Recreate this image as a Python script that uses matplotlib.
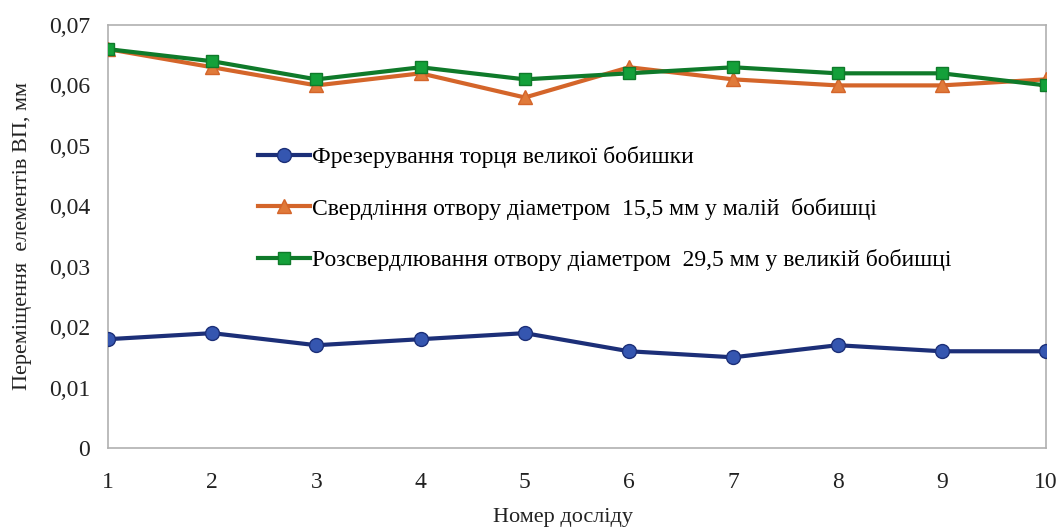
import matplotlib
matplotlib.use("Agg")
import matplotlib.pyplot as plt
from matplotlib.ticker import FuncFormatter

plt.rcParams['font.family'] = ['Liberation Serif', 'DejaVu Serif']

experiments = [1, 2, 3, 4, 5, 6, 7, 8, 9, 10]
milling = [0.018, 0.019, 0.017, 0.018, 0.019, 0.016, 0.015, 0.017, 0.016, 0.016]
drilling = [0.066, 0.063, 0.060, 0.062, 0.058, 0.063, 0.061, 0.060, 0.060, 0.061]
reaming = [0.066, 0.064, 0.061, 0.063, 0.061, 0.062, 0.063, 0.062, 0.062, 0.060]

labels = [
    "Фрезерування торця великої бобишки",
    "Свердління отвору діаметром  15,5 мм у малій  бобишці",
    "Розсвердлювання отвору діаметром  29,5 мм у великій бобишці",
]
y_ticks = [0, 0.01, 0.02, 0.03, 0.04, 0.05, 0.06, 0.07]

fig = plt.figure(figsize=(10.61, 5.27), dpi=100)
ax = fig.add_axes([0.1018, 0.150, 0.884, 0.8026])

ax.plot(experiments, milling, color='#1c2f78', lw=3, marker='o', ms=10,
        mfc='#3556b0', mec='#1c2f78', label=labels[0], zorder=3)
ax.plot(experiments, drilling, color='#d4652a', lw=3, marker='^', ms=10,
        mfc='#e07a3a', mec='#d4652a', label=labels[1], zorder=3)
ax.plot(experiments, reaming, color='#0f7a2a', lw=3, marker='s', ms=9,
        mfc='#14a03a', mec='#0f7a2a', label=labels[2], zorder=4)

ax.set_xlim(1, 10)
ax.set_ylim(0, 0.07)
ax.set_xticks(experiments)
ax.set_yticks(y_ticks)
ax.yaxis.set_major_formatter(FuncFormatter(lambda v, p: "0" if v == 0 else f"{v:.2f}".replace('.', ',')))
ax.tick_params(length=0, labelsize=17, colors='#222222')
ax.tick_params(axis='x', pad=17)
ax.tick_params(axis='y', pad=13)
for s in ax.spines.values():
    s.set_color('#b0b0b0')
    s.set_linewidth(1.2)

ax.set_xlabel("Номер досліду", fontsize=16, color='#222222', labelpad=11)
ax.xaxis.label.set_x(0.485)
ax.set_ylabel("Переміщення  елементів ВП, мм", fontsize=16, color='#222222', labelpad=12)

ax.legend(loc='upper left', bbox_to_anchor=(0.232, 0.745), bbox_transform=fig.transFigure,
          frameon=False, fontsize=17, labelspacing=1.25, handlelength=2.2,
          handletextpad=0.1, borderpad=0)

fig.savefig("out.png", dpi=100)
